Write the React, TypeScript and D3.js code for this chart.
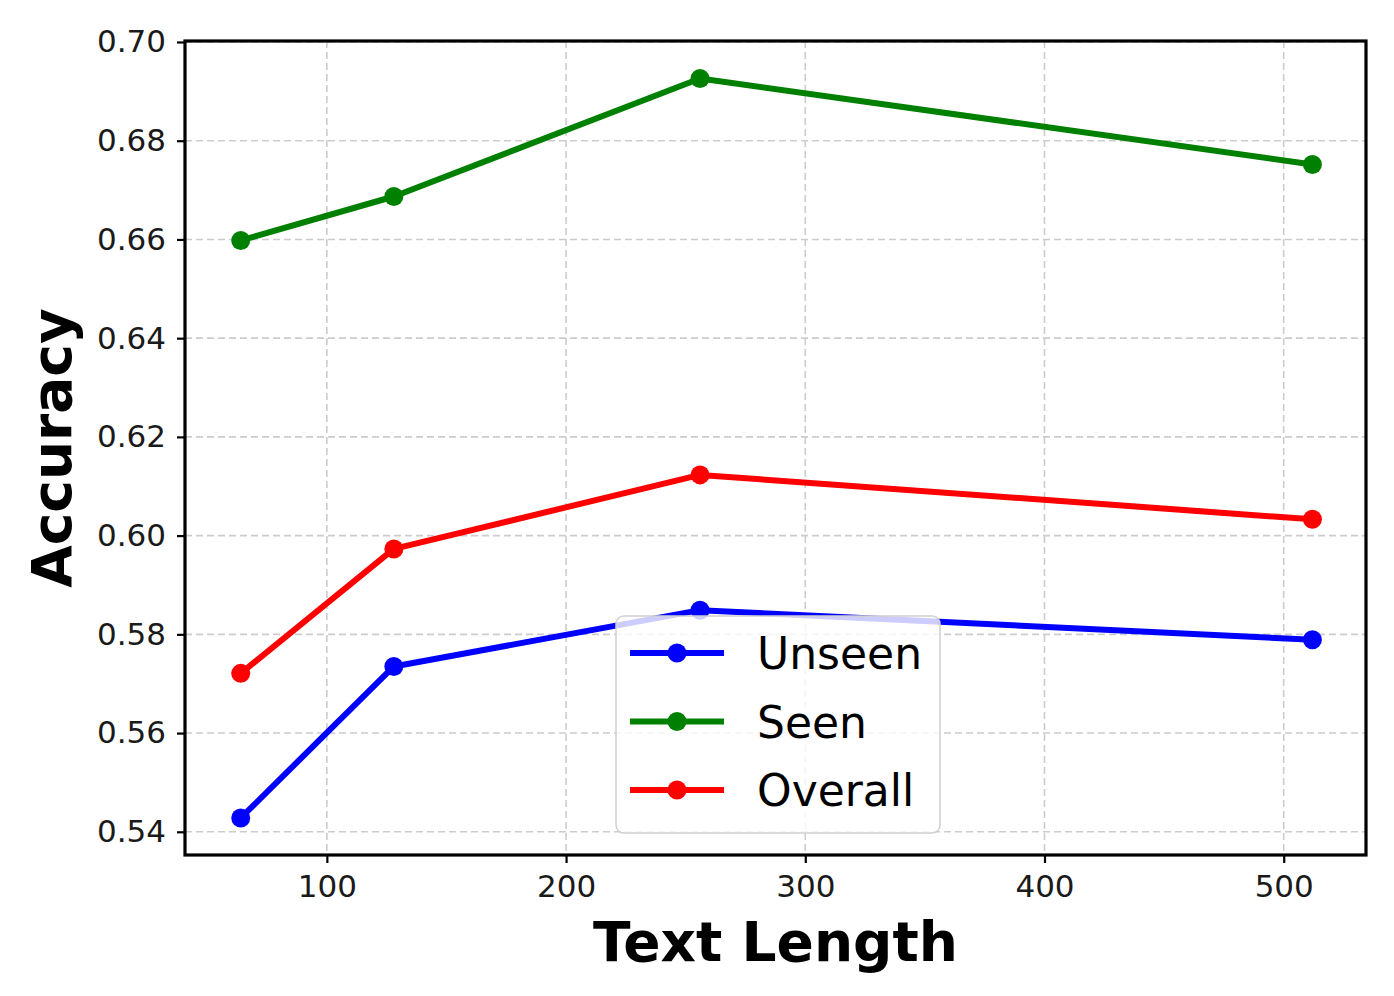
import { useEffect, useRef } from 'react'
import * as d3 from 'd3'

// text length (tokens)
const textLengths = [64, 128, 256, 512]
const unseenAcc = [0.5428, 0.5735, 0.5849, 0.5789]
const seenAcc = [0.6598, 0.6687, 0.6926, 0.6752]
const overallAcc = [0.5721, 0.5973, 0.6123, 0.6033]

const seriesNames = ['Unseen', 'Seen', 'Overall']
const seriesColors = ['#0000ff', '#008000', '#ff0000']

const xTicks = [100, 200, 300, 400, 500]
const yTicks = [0.54, 0.56, 0.58, 0.6, 0.62, 0.64, 0.66, 0.68, 0.7]

const width = 1394
const height = 996
const margin = { left: 185, right: 28, top: 41, bottom: 141 }
const FONT = '"DejaVu Sans", sans-serif'

function App() {
  const ref = useRef<SVGSVGElement>(null)

  useEffect(() => {
    drawChart()
  }, [])

  const drawChart = () => {
    const root = d3.select(ref.current)
    root.selectAll('*').remove()

    const plotW = width - margin.left - margin.right
    const plotH = height - margin.top - margin.bottom

    const xScale = d3.scaleLinear().domain([40.7, 534.4]).range([0, plotW])
    const yScale = d3.scaleLinear().domain([0.5353, 0.7002]).range([plotH, 0])

    const svg = root
      .append('g')
      .attr('transform', `translate(${margin.left},${margin.top})`)

    // grid
    const grid = svg.append('g').attr('class', 'grid')
    grid
      .selectAll('line.gx')
      .data(xTicks)
      .join('line')
      .attr('x1', (d) => xScale(d))
      .attr('x2', (d) => xScale(d))
      .attr('y1', 0)
      .attr('y2', plotH)
    grid
      .selectAll('line.gy')
      .data(yTicks)
      .join('line')
      .attr('x1', 0)
      .attr('x2', plotW)
      .attr('y1', (d) => yScale(d))
      .attr('y2', (d) => yScale(d))
    grid
      .selectAll('line')
      .attr('stroke', '#cccccc')
      .attr('stroke-width', 1.6)
      .attr('stroke-dasharray', '7,4')

    // axes
    const xAxis = svg
      .append('g')
      .attr('transform', `translate(0,${plotH})`)
      .call(
        d3
          .axisBottom(xScale)
          .tickValues(xTicks)
          .tickSize(8)
          .tickPadding(12)
          .tickFormat(d3.format('d') as any)
      )
    const yAxis = svg.append('g').call(
      d3
        .axisLeft(yScale)
        .tickValues(yTicks)
        .tickSize(8)
        .tickPadding(11)
        .tickFormat(d3.format('.2f') as any)
    )
    for (const ax of [xAxis, yAxis]) {
      ax.select('.domain').remove()
      ax.selectAll('line').attr('stroke', '#000').attr('stroke-width', 2.2)
      ax
        .selectAll('text')
        .attr('fill', '#1a1a1a')
        .style('font-family', FONT)
        .style('font-size', '31px')
    }

    // lines
    const allSeries = [unseenAcc, seenAcc, overallAcc]
    const line = d3
      .line<number>()
      .x((_, i) => xScale(textLengths[i]))
      .y((d) => yScale(d))

    allSeries.forEach((vals, si) => {
      svg
        .append('path')
        .datum(vals)
        .attr('fill', 'none')
        .attr('stroke', seriesColors[si])
        .attr('stroke-width', 6)
        .attr('stroke-linejoin', 'round')
        .attr('d', line)
      svg
        .selectAll(`circle.s${si}`)
        .data(vals)
        .join('circle')
        .attr('class', `s${si}`)
        .attr('cx', (_, i) => xScale(textLengths[i]))
        .attr('cy', (d) => yScale(d))
        .attr('r', 9.5)
        .attr('fill', seriesColors[si])
    })

    // spines
    svg
      .append('rect')
      .attr('width', plotW)
      .attr('height', plotH)
      .attr('fill', 'none')
      .attr('stroke', '#000')
      .attr('stroke-width', 3.2)

    // legend
    const lg = svg
      .append('g')
      .attr('transform', `translate(${616 - margin.left},${616 - margin.top})`)
    lg.append('rect')
      .attr('width', 324)
      .attr('height', 217)
      .attr('rx', 8)
      .attr('fill', '#fff')
      .attr('fill-opacity', 0.8)
      .attr('stroke', '#d0d0d0')
      .attr('stroke-width', 1.5)
    seriesNames.forEach((name, i) => {
      const y = 37 + i * 68.5
      lg.append('line')
        .attr('x1', 14)
        .attr('x2', 108)
        .attr('y1', y)
        .attr('y2', y)
        .attr('stroke', seriesColors[i])
        .attr('stroke-width', 6)
      lg.append('circle')
        .attr('cx', 61)
        .attr('cy', y)
        .attr('r', 9.5)
        .attr('fill', seriesColors[i])
      lg.append('text')
        .attr('x', 141)
        .attr('y', y + 16)
        .attr('fill', '#000')
        .style('font-family', FONT)
        .style('font-size', '44px')
        .text(name)
    })

    // axis labels
    svg
      .append('text')
      .attr('x', plotW / 2)
      .attr('y', 961 - margin.top)
      .attr('text-anchor', 'middle')
      .style('font-family', FONT)
      .style('font-size', '55px')
      .style('font-weight', 'bold')
      .text('Text Length')
    svg
      .append('text')
      .attr('transform', `translate(${71 - margin.left},${plotH / 2}) rotate(-90)`)
      .attr('text-anchor', 'middle')
      .style('font-family', FONT)
      .style('font-size', '55px')
      .style('font-weight', 'bold')
      .text('Accuracy')
  }

  return (
    <svg
      ref={ref}
      width={width}
      height={height}
      style={{ position: 'absolute', left: 0, top: 0, background: '#fff' }}
    />
  )
}

export default App
